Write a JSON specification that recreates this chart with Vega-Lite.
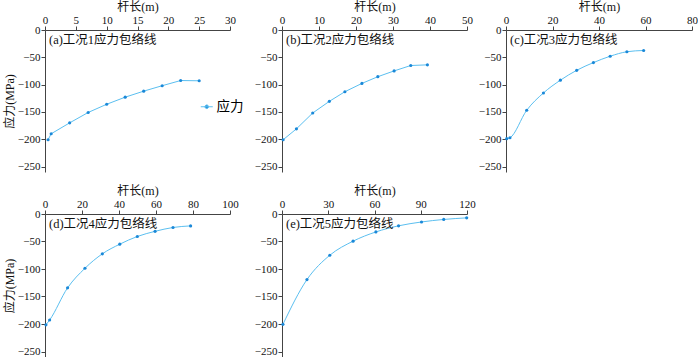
{
  "$schema": "https://vega.github.io/schema/vega-lite/v6.json",
  "padding": {"left": 3, "top": 0, "right": 0, "bottom": 0},
  "datasets": {
    "a": [{"x":0.5,"y":-201},{"x":1,"y":-190},{"x":4,"y":-170},{"x":7,"y":-151},{"x":10,"y":-136},{"x":13,"y":-123},{"x":16,"y":-112},{"x":19,"y":-102},{"x":22,"y":-92.5},{"x":25,"y":-93}],
    "b": [{"x":0.3,"y":-201},{"x":3.9,"y":-181},{"x":8.3,"y":-152},{"x":12.8,"y":-130.6},{"x":17,"y":-113},{"x":21.6,"y":-97.8},{"x":25.9,"y":-85.5},{"x":30.3,"y":-74.9},{"x":34.8,"y":-65},{"x":39.3,"y":-63.8}],
    "c": [{"x":0.3,"y":-199},{"x":1.7,"y":-197.3},{"x":8.9,"y":-147},{"x":16.1,"y":-115.3},{"x":23.4,"y":-91.9},{"x":30.4,"y":-73.8},{"x":37.6,"y":-59.7},{"x":44.8,"y":-48},{"x":52,"y":-39.8},{"x":59.2,"y":-37.5}],
    "d": [{"x":0.5,"y":-201.5},{"x":2.5,"y":-192.8},{"x":12.2,"y":-134.3},{"x":21.6,"y":-98.7},{"x":31,"y":-72.4},{"x":40.4,"y":-54.9},{"x":49.9,"y":-40.9},{"x":59.5,"y":-31.5},{"x":69.2,"y":-24.5},{"x":78.7,"y":-21.6}],
    "e": [{"x":0.6,"y":-200.6},{"x":16.2,"y":-119.2},{"x":31,"y":-75},{"x":46.1,"y":-49.4},{"x":60.9,"y":-32.6},{"x":75.6,"y":-21.5},{"x":90.5,"y":-14.5},{"x":104.9,"y":-9.9},{"x":119.8,"y":-7}]
  },
  "config": {
    "font": "Liberation Serif, Noto Sans CJK SC",
    "view": {"stroke": null},
    "axis": {"grid": false, "labelFontSize": 11, "titleFontSize": 12, "titleFontWeight": "normal", "domainColor": "#444", "tickColor": "#444", "labelColor": "#111", "titleColor": "#111", "tickSize": 4, "labelPadding": 1, "titlePadding": 1, "labelOverlap": false, "labelFlush": false, "tickCount": 20},
    "title": {"fontSize": 12.5, "fontWeight": "normal", "color": "#111", "anchor": "start", "frame": "group"}
  },
  "resolve": {"legend": {"color": "independent"}, "scale": {"x": "independent", "y": "independent"}},
  "columns": 3,
  "spacing": {"row": 12, "column": 2},
  "concat": [
    {
      "width": 185, "height": 142,
      "title": {"text": "(a)工况1应力包络线", "offset": -46, "dx": 4},
      "data": {"name": "a"},
      "layer": [
        {
          "mark": {"type": "line", "interpolate": "linear", "strokeWidth": 1},
          "encoding": {
            "x": {"field": "x", "type": "quantitative", "scale": {"domain": [0, 30]}, "axis": {"orient": "top", "title": "杆长(m)", "values": [0,5,10,15,20,25,30], "tickCount": 20}},
            "y": {"field": "y", "type": "quantitative", "scale": {"domain": [-250, 0]}, "axis": {"title": "应力(MPa)", "values": [0,-50,-100,-150,-200,-250], "tickCount": 20}},
            "color": {"datum": "应力", "type": "nominal", "scale": {"range": ["#5bbff0"]},
              "legend": {"title": null, "orient": "none", "legendX": 147, "legendY": 62, "padding": 8, "labelFontSize": 13.5, "symbolType": "M-1,0H1M-0.3,0a0.3,0.3 0 1,0 0.6,0a0.3,0.3 0 1,0 -0.6,0Z", "symbolSize": 144, "symbolFillColor": "#1a88d8", "symbolStrokeWidth": 1, "labelOffset": 3}}
          }
        },
        {
          "mark": {"type": "circle", "size": 10, "color": "#1a88d8", "opacity": 1},
          "encoding": {"x": {"field": "x", "type": "quantitative"}, "y": {"field": "y", "type": "quantitative"}}
        }
      ]
    },
    {
      "width": 185, "height": 142,
      "title": {"text": "(b)工况2应力包络线", "offset": -46, "dx": 4},
      "data": {"name": "b"},
      "layer": [
        {
          "mark": {"type": "line", "interpolate": "linear", "strokeWidth": 1, "color": "#5bbff0"},
          "encoding": {
            "x": {"field": "x", "type": "quantitative", "scale": {"domain": [0, 50]}, "axis": {"orient": "top", "title": "杆长(m)", "values": [0,10,20,30,40,50], "tickCount": 20}},
            "y": {"field": "y", "type": "quantitative", "scale": {"domain": [-250, 0]}, "axis": {"title": null, "values": [0,-50,-100,-150,-200,-250], "tickCount": 20}}
          }
        },
        {
          "mark": {"type": "circle", "size": 10, "color": "#1a88d8", "opacity": 1},
          "encoding": {"x": {"field": "x", "type": "quantitative"}, "y": {"field": "y", "type": "quantitative"}}
        }
      ]
    },
    {
      "width": 186, "height": 142,
      "title": {"text": "(c)工况3应力包络线", "offset": -46, "dx": 4},
      "data": {"name": "c"},
      "layer": [
        {
          "mark": {"type": "line", "interpolate": "monotone", "strokeWidth": 1, "color": "#5bbff0"},
          "encoding": {
            "x": {"field": "x", "type": "quantitative", "scale": {"domain": [0, 80]}, "axis": {"orient": "top", "title": "杆长(m)", "values": [0,20,40,60,80], "tickCount": 20}},
            "y": {"field": "y", "type": "quantitative", "scale": {"domain": [-250, 0]}, "axis": {"title": null, "values": [0,-50,-100,-150,-200,-250], "tickCount": 20}}
          }
        },
        {
          "mark": {"type": "circle", "size": 10, "color": "#1a88d8", "opacity": 1},
          "encoding": {"x": {"field": "x", "type": "quantitative"}, "y": {"field": "y", "type": "quantitative"}}
        }
      ]
    },
    {
      "width": 185, "height": 143,
      "title": {"text": "(d)工况4应力包络线", "offset": -46, "dx": 4},
      "data": {"name": "d"},
      "layer": [
        {
          "mark": {"type": "line", "interpolate": "monotone", "strokeWidth": 1, "color": "#5bbff0"},
          "encoding": {
            "x": {"field": "x", "type": "quantitative", "scale": {"domain": [0, 100]}, "axis": {"orient": "top", "title": "杆长(m)", "values": [0,20,40,60,80,100], "tickCount": 20}},
            "y": {"field": "y", "type": "quantitative", "scale": {"domain": [-250, 0]}, "axis": {"title": "应力(MPa)", "values": [0,-50,-100,-150,-200,-250], "tickCount": 20}}
          }
        },
        {
          "mark": {"type": "circle", "size": 10, "color": "#1a88d8", "opacity": 1},
          "encoding": {"x": {"field": "x", "type": "quantitative"}, "y": {"field": "y", "type": "quantitative"}}
        }
      ]
    },
    {
      "width": 185, "height": 143,
      "title": {"text": "(e)工况5应力包络线", "offset": -46, "dx": 4},
      "data": {"name": "e"},
      "layer": [
        {
          "mark": {"type": "line", "interpolate": "monotone", "strokeWidth": 1, "color": "#5bbff0"},
          "encoding": {
            "x": {"field": "x", "type": "quantitative", "scale": {"domain": [0, 120]}, "axis": {"orient": "top", "title": "杆长(m)", "values": [0,30,60,90,120], "tickCount": 20}},
            "y": {"field": "y", "type": "quantitative", "scale": {"domain": [-250, 0]}, "axis": {"title": null, "values": [0,-50,-100,-150,-200,-250], "tickCount": 20}}
          }
        },
        {
          "mark": {"type": "circle", "size": 10, "color": "#1a88d8", "opacity": 1},
          "encoding": {"x": {"field": "x", "type": "quantitative"}, "y": {"field": "y", "type": "quantitative"}}
        }
      ]
    }
  ]
}
